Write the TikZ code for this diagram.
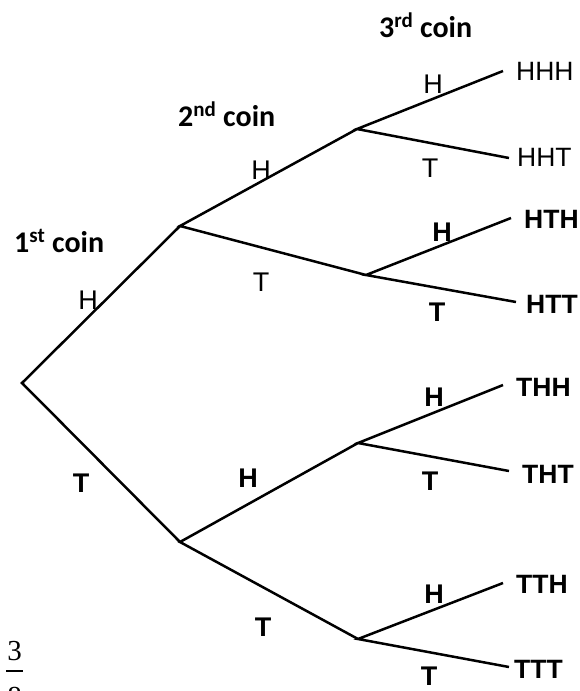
\documentclass[tikz,border=0pt]{standalone}
\usepackage{fontspec}
\setmainfont{Liberation Sans}
\newfontfamily\headfont{Carlito}
\newfontfamily\fracfont{Liberation Serif}
\begin{document}
\begin{tikzpicture}[x=1pt,y=-1pt,
  branch/.style={line width=2.5pt,line join=miter},
  lbl/.style={inner sep=0pt,font=\fontsize{27}{32}\selectfont},
  blbl/.style={inner sep=0pt,font=\fontsize{27}{32}\selectfont\bfseries},
  leaf/.style={inner sep=0pt,anchor=base west,font=\fontsize{26.5}{32}\selectfont},
  bleaf/.style={inner sep=0pt,anchor=base west,font=\fontsize{26.5}{32}\selectfont\bfseries},
  head/.style={inner sep=0pt,anchor=base west,font=\headfont\fontsize{30}{36}\selectfont\bfseries}]
\useasboundingbox (0,0) rectangle (579,691);

% branching points
\coordinate (r)  at (22,383);
\coordinate (a)  at (180,226);
\coordinate (b)  at (180,542);
\coordinate (aa) at (357,129);
\coordinate (ab) at (366,275);
\coordinate (ba) at (358,443);
\coordinate (bb) at (358,639);
% free ends of the last branches
\coordinate (eHHH) at (503,71);
\coordinate (eHHT) at (509,158);
\coordinate (eHTH) at (511,218);
\coordinate (eHTT) at (516,302);
\coordinate (eTHH) at (503,385);
\coordinate (eTHT) at (509,471);
\coordinate (eTTH) at (503,583);
\coordinate (eTTT) at (509,667);

% tree
\draw[branch] (a) -- (r) -- (b);
\draw[branch] (aa) -- (a) -- (ab);
\draw[branch] (ba) -- (b) -- (bb);
\draw[branch] (eHHH) -- (aa) -- (eHHT);
\draw[branch] (eHTH) -- (ab) -- (eHTT);
\draw[branch] (eTHH) -- (ba) -- (eTHT);
\draw[branch] (eTTH) -- (bb) -- (eTTT);

% column headings
\node[head] (h1) at (14,252) {1\textsuperscript{st} coin};
\node[head] (h2) at (178,126) {2\textsuperscript{nd} coin};
\node[head] (h3) at (379,37) {3\textsuperscript{rd} coin};

% branch labels
\node[lbl]  (l1H) at (88,300) {H};
\node[blbl] (l1T) at (81,483) {T};
\node[lbl]  (l2aH) at (261,170) {H};
\node[lbl]  (l2aT) at (261,282) {T};
\node[blbl] (l2bH) at (248,478) {H};
\node[blbl] (l2bT) at (263,627) {T};
\node[lbl]  (l3aaH) at (433,84) {H};
\node[lbl]  (l3aaT) at (430,168) {T};
\node[blbl] (l3abH) at (442,232) {H};
\node[blbl] (l3abT) at (437,312) {T};
\node[blbl] (l3baH) at (434,397) {H};
\node[blbl] (l3baT) at (430,481) {T};
\node[blbl] (l3bbH) at (434,594) {H};
\node[blbl] (l3bbT) at (429,676) {T};

% outcomes
\node[leaf]  (oHHH) at (516,80)  {HHH};
\node[leaf]  (oHHT) at (517,166) {HHT};
\node[bleaf] (oHTH) at (524,228) {HTH};
\node[bleaf] (oHTT) at (526,313) {HTT};
\node[bleaf] (oTHH) at (516,396) {THH};
\node[bleaf] (oTHT) at (522,483) {THT};
\node[bleaf] (oTTH) at (516,593) {TTH};
\node[bleaf] (oTTT) at (514,678) {TTT};

% fraction in the corner
\node[inner sep=0pt,anchor=base,font=\fracfont\fontsize{29}{34}\selectfont] (num) at (14.5,660) {3};
\node[inner sep=0pt,anchor=base,font=\fracfont\fontsize{29}{34}\selectfont] (den) at (14.5,706) {8};
\coordinate (barL) at (6,671);
\coordinate (barR) at (23,671);
\draw[line width=1.2pt] (barL) -- (barR);
\end{tikzpicture}
\end{document}
